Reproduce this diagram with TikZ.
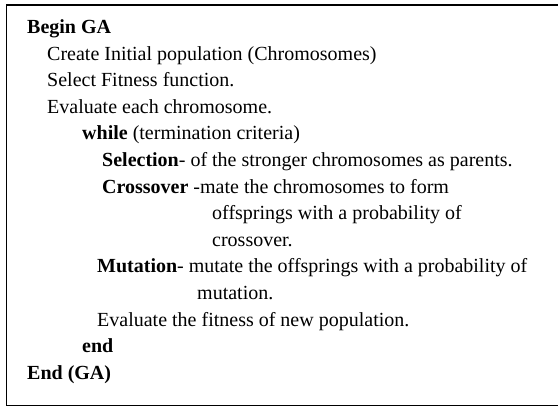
\documentclass[tikz,border=0pt]{standalone}
\usepackage{fontspec}
\setmainfont{Liberation Serif}
\tikzset{
  codeline/.style={anchor=base west, inner sep=0pt, font=\fontsize{20}{24}\selectfont}
}
\begin{document}
\begin{tikzpicture}[x=1pt,y=-1pt]
    \useasboundingbox (0,0) rectangle (558,407);
    \draw[line width=1.5pt] (6.5,5) rectangle (565,405.5);

    \node[codeline] (begin)   at (27,33.5)  {\textbf{Begin GA}};
    \node[codeline] (create)  at (47,60.1)  {Create Initial population (Chromosomes)};
    \node[codeline] (fitness) at (47,86.7)  {Select Fitness function.};
    \node[codeline] (eval)    at (47,113.3) {Evaluate each chromosome.};
    \node[codeline] (while)   at (82,139.9) {\textbf{while} (termination criteria)};
    \node[codeline] (select)  at (102,166.5){\textbf{Selection}- of the stronger chromosomes as parents.};
    \node[codeline] (cross)   at (102,193.1){\textbf{Crossover} -mate the chromosomes to form};
    \node[codeline] (crossa)  at (212,219.7){offsprings with a probability of};
    \node[codeline] (crossb)  at (212,246.3){crossover.};
    \node[codeline] (mutate)  at (97,272.9) {\textbf{Mutation}- mutate the offsprings with a probability of};
    \node[codeline] (mutatea) at (197,299.5){mutation.};
    \node[codeline] (evalnew) at (97,326.1) {Evaluate the fitness of new population.};
    \node[codeline] (endw)    at (82,352.7) {\textbf{end}};
    \node[codeline] (endga)   at (27,379.3) {\textbf{End (GA)}};
\end{tikzpicture}
\end{document}
